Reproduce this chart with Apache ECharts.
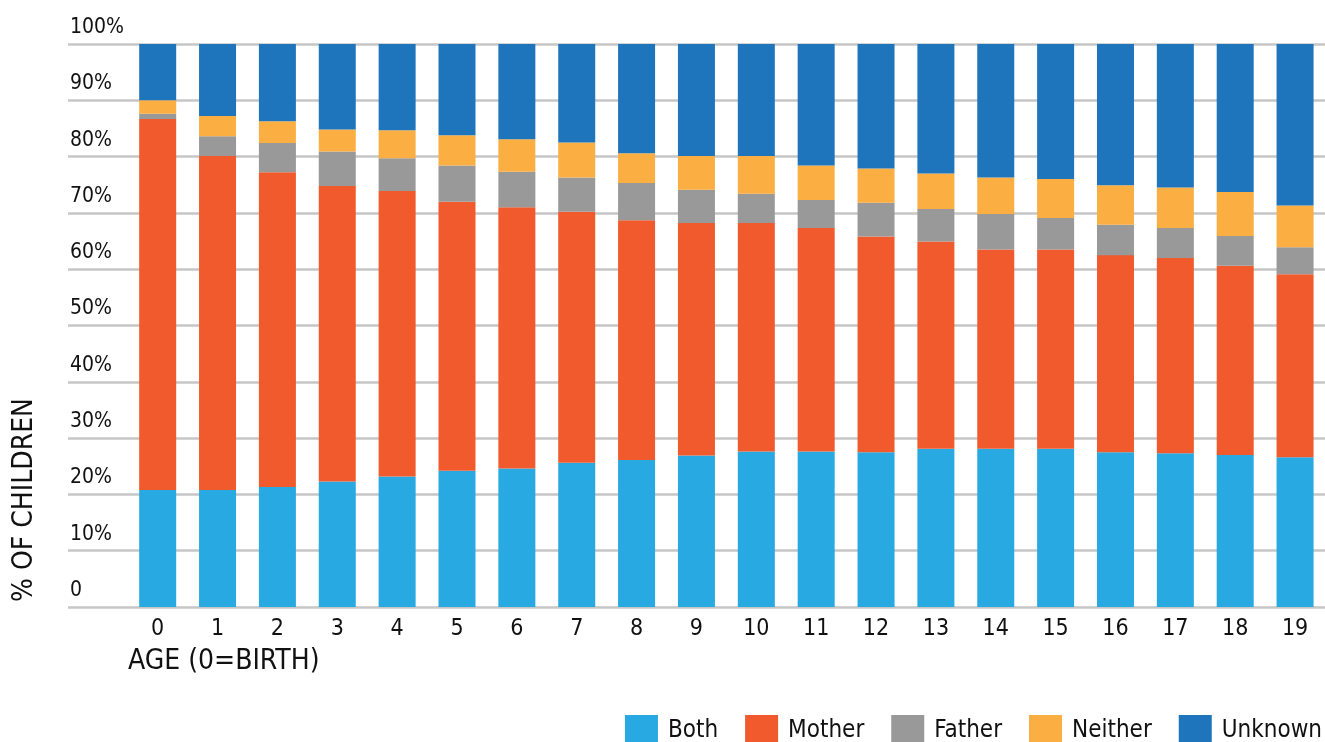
<!DOCTYPE html>
<html>
<head>
<meta charset="utf-8">
<script src="https://cdn.jsdelivr.net/npm/echarts@6/dist/echarts.min.js"></script>
<style>
html,body{margin:0;padding:0;background:#fff;}
#chart{width:1325px;height:742px;}
</style>
</head>
<body>
<div id="chart"></div>
<script>
var ages = ['0','1','2','3','4','5','6','7','8','9','10','11','12','13','14','15','16','17','18','19'];
var both    = [20.8,20.8,21.3,22.3,23.2,24.2,24.6,25.6,26.1,26.9,27.6,27.6,27.5,28.1,28.1,28.1,27.5,27.3,27.0,26.6];
var mother  = [65.9,59.3,55.9,52.5,50.7,47.8,46.4,44.6,42.6,41.3,40.6,39.7,38.3,36.8,35.4,35.4,35.0,34.7,33.6,32.5];
var father  = [0.9,3.5,5.2,6.1,5.8,6.4,6.3,6.1,6.6,5.9,5.2,5.0,6.0,5.8,6.3,5.6,5.4,5.3,5.3,4.8];
var neither = [2.4,3.6,3.9,3.9,5.0,5.4,5.8,6.2,5.3,6.0,6.7,6.1,6.1,6.3,6.5,6.9,7.0,7.2,7.8,7.4];
var unknown = [10.0,12.8,13.7,15.2,15.3,16.2,16.9,17.5,19.4,19.9,19.9,21.6,22.1,23.0,23.7,24.0,25.1,25.5,26.3,28.7];
var seriesNames = ['Both','Mother','Father','Neither','Unknown'];
var colors = ['#29A9E1','#F15A2C','#999999','#FBAE42','#1F75BB'];
var yTicks = [0,10,20,30,40,50,60,70,80,90,100];

var FONT = "'DejaVu Sans', sans-serif";
var FW = 'condensed';
var chart = echarts.init(document.getElementById('chart'), null, {renderer:'canvas'});
var dataSets = [both, mother, father, neither, unknown];

var series = seriesNames.map(function(n, i){
  return {
    name: n, type: 'bar', stack: 'all', xAxisIndex: 0, yAxisIndex: 0,
    barWidth: 37, data: dataSets[i],
    itemStyle: {color: colors[i]}
  };
});

chart.setOption({
  animation: false,
  color: colors,
  textStyle: {fontFamily: FONT},
  grid: [
    {left: 127.75, width: 1210, top: 44, bottom: 135},
    {left: 68, right: 0, top: 44, bottom: 135}
  ],
  xAxis: [
    {type: 'category', gridIndex: 0, data: ages, boundaryGap: true,
     axisLine: {show: false}, axisTick: {show: false},
     axisLabel: {fontSize: 23, color: '#111', margin: 11, fontFamily: FONT, fontWeight: FW}},
    {type: 'value', gridIndex: 1, show: false, min: 0, max: 1}
  ],
  yAxis: [
    {type: 'value', gridIndex: 0, min: 0, max: 100, interval: 10,
     axisLabel: {show: false}, splitLine: {show: false}, axisLine: {show: false}, axisTick: {show: false}},
    {type: 'value', gridIndex: 1, min: yTicks[0], max: yTicks[yTicks.length-1], interval: 10,
     axisLine: {show: false}, axisTick: {show: false},
     splitLine: {show: true, lineStyle: {color: '#C6C6C6', width: 2.5}},
     axisLabel: {inside: true, margin: 2, align: 'left', verticalAlign: 'bottom', padding: [0,0,6,0],
       fontSize: 21, color: '#111', fontFamily: FONT, fontWeight: FW,
       formatter: function(v){ return v === 0 ? '0' : v + '%'; }}}
  ],
  legend: {
    data: seriesNames, right: -2, top: 710, itemWidth: 33, itemHeight: 32, itemGap: 27,
    icon: 'rect', textStyle: {fontSize: 24, color: '#111', fontFamily: FONT, fontWeight: FW, padding: [0,0,0,5]}
  },
  graphic: [
    {type: 'text', x: 25, y: 602, rotation: Math.PI/2,
     style: {text: '% OF CHILDREN', fontSize: 28, fill: '#111', fontFamily: FONT, fontWeight: FW, align: 'left', verticalAlign: 'middle'}},
    {type: 'text', x: 128, y: 662,
     style: {text: 'AGE (0=BIRTH)', fontSize: 28, fill: '#111', fontFamily: FONT, fontWeight: FW, align: 'left', verticalAlign: 'middle'}}
  ],
  series: series
});
</script>
</body>
</html>
